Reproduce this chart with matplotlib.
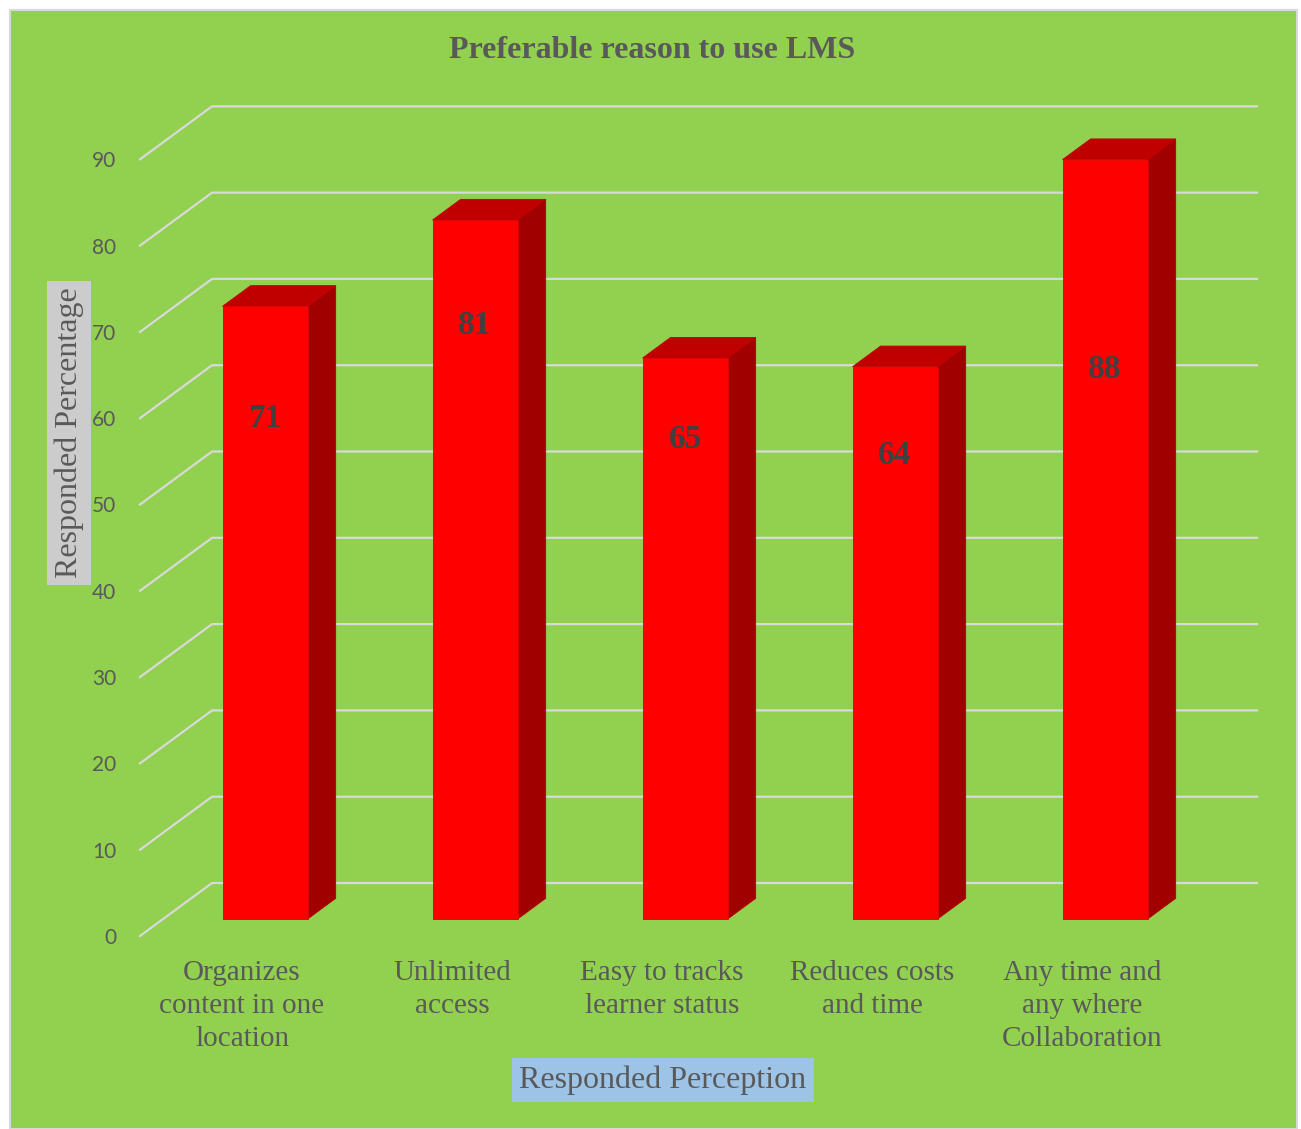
import numpy as np
import matplotlib
matplotlib.use("Agg")
import matplotlib.pyplot as plt
from matplotlib.patches import Polygon, Rectangle

# chart data
categories = ["Organizes\ncontent in one\nlocation", "Unlimited\naccess",
              "Easy to tracks\nlearner status", "Reduces costs\nand time",
              "Any time and\nany where\nCollaboration"]
values = [71, 81, 65, 64, 88]
yticks = list(range(0, 100, 10))

# where the value labels sit on the front faces (value units, as in the source)
label_at = [60.0, 70.7, 57.5, 55.7, 65.7]

# oblique "3d" look: depth vector in (category, value) units
Dx, Dy = 0.343, 6.14
zf, zb = 0.32, 0.71       # front / back depth of the bars
w = 0.405                 # bar width in category units

green = "#92D050"
grid_c = "#D9D9D9"
txt_c = "#595959"
serif = ["Liberation Serif", "DejaVu Serif"]

W, H = 1301, 1129
fig = plt.figure(figsize=(W / 100, H / 100), dpi=100)
fig.patches.append(Rectangle((10 / W, 0), 1287 / W, 1119 / H, transform=fig.transFigure,
                             facecolor=green, edgecolor=grid_c, linewidth=1.5, zorder=-10))

# axes: left edge at front wall, bottom at value 0 on the front plane
px_per_cat, px_per_val = 210, 8.63
x0 = (140 - 242) / px_per_cat
x1 = (1297 - 242) / px_per_cat
vtop = (936 - 10) / px_per_val
ax = fig.add_axes([140 / W, (H - 936) / H, (1297 - 140) / W, 926 / H])
ax.set_zorder(2)
ax.set_xlim(x0, x1)
ax.set_ylim(0, vtop)
ax.patch.set_alpha(0)
for s in ax.spines.values():
    s.set_visible(False)


def proj(x, v, z):
    return (x + z * Dx, v + z * Dy)


# gridlines: diagonal on the left wall + back wall line
x_back_end = (1257 - 242) / px_per_cat
for t in yticks:
    a = proj(x0, t, 0)
    b = proj(x0, t, 1)
    ax.plot([a[0], b[0], x_back_end], [a[1], b[1], b[1]], color=grid_c, lw=1.6,
            solid_joinstyle="miter", clip_on=False, zorder=1)

# bars
for i, v in enumerate(values):
    l, r = i - w / 2, i + w / 2
    front = [proj(l, 0, zf), proj(r, 0, zf), proj(r, v, zf), proj(l, v, zf)]
    side = [proj(r, 0, zf), proj(r, 0, zb), proj(r, v, zb), proj(r, v, zf)]
    top = [proj(l, v, zf), proj(r, v, zf), proj(r, v, zb), proj(l, v, zb)]
    ax.add_patch(Polygon(side, closed=True, facecolor="#A00000", edgecolor="#B00000", lw=0.6, zorder=3))
    ax.add_patch(Polygon(top, closed=True, facecolor="#C00000", edgecolor="#C00000", lw=0.6, zorder=3))
    ax.add_patch(Polygon(front, closed=True, facecolor="#FF0000", edgecolor="#E00000", lw=0.6, zorder=4))
    cx, _ = proj(i, 0, zf)
    ax.text(cx, label_at[i], str(v), ha="center", va="center", fontsize=24,
            fontweight="bold", family=serif, color="#404040", zorder=5)

ax.set_yticks(yticks)
ax.set_yticklabels([str(t) for t in yticks], fontsize=15, color=txt_c, family=["Lato", "DejaVu Sans"])
ax.set_xticks(range(len(categories)))
ax.set_xticklabels(categories, fontsize=21, color=txt_c, family=serif, linespacing=1.36)
ax.tick_params(axis="y", length=0, pad=17)
ax.tick_params(axis="x", length=0, pad=17)

fig.text(652 / W, 1 - 51 / H, "Preferable reason to use LMS", ha="center", va="center",
         fontsize=23, fontweight="bold", family=serif, color=txt_c)
fig.text(69 / W, 1 - 433 / H, "Responded Percentage", rotation=90, ha="center", va="center",
         fontsize=23, family=serif, color=txt_c,
         bbox=dict(boxstyle="square,pad=0.22", facecolor="#CCCCCC", edgecolor="none"))
fig.text(663 / W, 1 - 1080 / H, "Responded Perception", ha="center", va="center",
         fontsize=23, family=serif, color=txt_c,
         bbox=dict(boxstyle="square,pad=0.22", facecolor="#9DC3E6", edgecolor="none"))

fig.savefig("out.png", dpi=100, facecolor="white")
